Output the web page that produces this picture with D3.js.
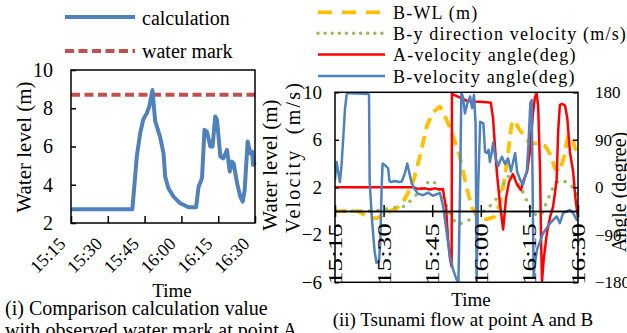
<!DOCTYPE html>
<html><head><meta charset="utf-8">
<script src="https://cdn.jsdelivr.net/npm/d3@7"></script>
<style>
body{margin:0;background:#fff}
svg{display:block}
svg text{font-family:"Liberation Serif","Times New Roman","DejaVu Serif",serif !important;fill:#000}
</style>
</head><body>
<svg id="c" width="627" height="333" font-family="Liberation Serif, serif"></svg>
<script>
// ---------- data (minutes after 15:15) ----------
const tickMinutes = [0, 15, 30, 45, 60, 75];
const levelTicks = [2, 4, 6, 8, 10];
const velocityTicks = [-6, -2, 2, 6, 10];
const angleTicks = [-180, -90, 0, 90, 180];

const calcMinutes = [0,25.0,26.0,26.8,28.2,29.5,30.9,31.9,33.2,34.3,36.3,37.7,38.4,39.7,41.8,44.5,47.9,51.0,52.0,53.4,54.4,55.4,56.8,57.7,58.8,59.5,60.9,62.0,63.6,64.7,65.6,66.3,67.7,69.0,70.0,70.8,72.0,73.1,73.8,74.2,75.0];
const calcLevel = [2.72,2.72,4.2,5.47,6.7,7.43,7.74,8.09,8.95,7.34,6.5,5.65,4.42,3.82,3.38,3.03,2.82,2.82,3.9,4.34,6.87,6.78,6.0,6.0,7.57,7.4,5.47,5.38,5.82,4.69,5.21,5.12,4.08,3.38,3.12,3.73,6.26,5.65,5.73,5.04,5.2];
const waterMarkLevel = 8.7;

const bwlMinutes = [0,7.1,9.0,10.8,13.0,14.8,17.0,18.8,20.7,22.5,24.4,26.2,28.4,30.2,32.4,34.6,36.4,38.0,39.5,40.7,42.3,44.1,46.6,49.1,50.9,52.5,53.7,54.6,55.6,56.8,58.0,60.2,62.7,64.8,66.4,67.9,69.4,70.7,71.9,73.1,74.1,75.0];
const bwlValues = [0,0,-0.3,-0.6,-0.6,-0.3,0,0.2,0.6,1.5,2.7,4.6,7.2,8.3,8.8,7.6,6.3,5.1,3.4,1.9,0.3,-0.6,-0.7,-0.5,0.6,3.0,5.5,7.5,7.6,6.9,6.5,5.7,5.7,5.5,4.8,3.6,3.3,4.6,6.3,6.3,5.3,4.8];

const byMinutes = [0,7.7,12.3,15.4,18.5,21.6,24.1,26.2,28.1,29.6,31.2,33.0,34.6,36.1,37.7,39.5,41.7,44.1,46.6,48.5,50.0,51.9,53.7,54.9,56.5,58.0,59.3,60.8,62.3,63.9,65.4,67.0,68.8,70.4,71.9,73.5,75.0];
const byValues = [0,0,0,0.15,0.3,0.4,1.1,1.7,2.3,2.6,2.3,1.4,0.3,-0.6,-1.1,-1.0,-0.7,-0.3,0.1,0.6,1.1,2.2,3.0,3.1,2.4,1.6,0.8,0.0,-0.4,-0.2,0.8,1.8,2.5,2.6,2.3,2.0,1.2];

const aAngleMinutes = [0,24.1,25.6,27.8,29.3,30.9,32.4,33.3,34.3,34.9,35.5,36.0,36.1,36.4,38.6,40.7,42.6,44.8,46.9,48.1,48.8,49.4,50.0,50.9,51.9,52.8,53.7,54.9,56.2,57.4,58.3,59.3,60.2,61.1,61.7,62.2,62.7,63.3,63.6,63.9,64.4,65.4,66.4,67.3,67.9,68.4,68.9,69.4,70.1,71.0,71.7,72.5,73.5,74.2,75.0];
const aAngleValues = [0,0,-3,-2,-4,-2,-4,-3,-40,-100,-135,-150,178,176,170,164,162,162,161,160,130,75,25,-30,-80,-20,10,25,5,-5,15,30,70,140,170,179,155,30,-100,-178,-138,-87,-56,-37,-10,14,108,156,158,155,131,67,30,-20,-60];

const bAngleMinutes = [0.0,0.5,1.1,1.5,2.0,2.6,3.1,3.6,4.0,4.6,10.2,10.5,10.7,11.4,12.2,12.8,13.6,14.0,14.4,14.7,15.4,16.4,16.8,17.3,18.5,19.8,20.6,21.6,22.3,23.1,23.7,24.4,25.6,27.2,28.7,30.2,31.8,32.4,33.4,34.5,35.5,36.5,37.6,38.1,38.6,39.0,39.5,40.1,40.9,41.7,42.3,42.9,43.4,43.7,44.2,44.8,45.8,46.3,46.9,47.4,47.8,48.4,48.8,49.4,50.3,51.5,52.5,53.4,54.3,55.6,56.2,57.1,58.0,59.2,59.7,60.3,60.7,61.0,61.3,61.7,62.3,64.2,66.4,68.4,69.4,70.4,72.5,73.5,74.6,75.0];
const bAngleValues = [15,48,25,10,40,99,150,175,179,178,177,175,10,-60,-120,-143,-140,-100,0,45,42,36,12,10,12,10,11,27,45,23,8,-2,-12,-15,-10,-16,-12,-11,-37,-87,-131,-157,-176,-178,0,178,172,140,160,172,150,175,120,-178,0,124,121,67,65,71,48,67,85,60,40,58,44,55,30,65,30,15,5,30,80,160,165,0,-168,-145,-119,-87,-68,-55,-68,-49,-43,-49,-62,-56];

// ---------- helpers ----------
const SERIF = "'Liberation Serif', 'Times New Roman', 'DejaVu Serif', serif";
const base = new Date(2011, 2, 11, 15, 15);
const T = m => new Date(+base + m * 60000);
const fmt = d3.timeFormat("%H:%M");
const zip = (a, b) => a.map((m, i) => [T(m), b[i]]);
const svg = d3.select("#c");
const BLUE = "#4F81BD", RED = "#C0504D";

// ================= LEFT CHART =================
const L = {x0: 71, x1: 255, y0: 70, y1: 223};
const xL = d3.scaleTime().domain([T(0), T(75)]).range([L.x0, L.x1]);
const yL = d3.scaleLinear().domain([2, 10]).range([L.y1, L.y0]);

svg.append("clipPath").attr("id", "clipL").append("rect")
  .attr("x", L.x0).attr("y", L.y0 - 3).attr("width", L.x1 - L.x0).attr("height", L.y1 - L.y0 + 3);

const gL = svg.append("g");
gL.append("g").attr("clip-path", "url(#clipL)").append("line")
  .attr("x1", xL(T(0))).attr("x2", xL(T(75)))
  .attr("y1", yL(waterMarkLevel)).attr("y2", yL(waterMarkLevel))
  .attr("stroke", RED).attr("stroke-width", 4).attr("stroke-dasharray", "9,4.5");
gL.append("path").datum(zip(calcMinutes, calcLevel))
  .attr("fill", "none").attr("stroke", BLUE).attr("stroke-width", 4)
  .attr("stroke-linejoin", "round")
  .attr("d", d3.line().x(d => xL(d[0])).y(d => yL(d[1])));

gL.append("rect").attr("x", L.x0).attr("y", L.y0).attr("width", L.x1 - L.x0).attr("height", L.y1 - L.y0)
  .attr("fill", "none").attr("stroke", "#000").attr("stroke-width", 1.5);

const axL = gL.append("g").attr("transform", `translate(${L.x0},0)`)
  .call(d3.axisLeft(yL).tickValues(levelTicks).tickSizeInner(-5).tickSizeOuter(0).tickPadding(18));
axL.attr("font-family", SERIF);
axL.select(".domain").remove();
axL.selectAll("line").attr("stroke-width", 1.5);
axL.selectAll("text").style("font-size", "20px").style("font-family", SERIF);

const axLB = gL.append("g").attr("transform", `translate(0,${L.y1})`)
  .call(d3.axisBottom(xL).tickValues(tickMinutes.map(T)).tickSizeInner(-7).tickSizeOuter(0).tickFormat(fmt));
axLB.attr("font-family", SERIF);
axLB.select(".domain").remove();
axLB.selectAll("line").attr("stroke-width", 1.5);
axLB.selectAll("text").style("font-size", "18px").style("font-family", SERIF)
  .attr("text-anchor", "end").attr("y", 0).attr("dy", 0)
  .attr("transform", "translate(-5,22) rotate(-45)");

const txt = (g) => g.append("text").style("font-family", SERIF);

txt(gL).attr("x", 172).attr("y", 297).attr("text-anchor", "middle")
  .style("font-size", "19px").text("Time");
txt(gL).attr("transform", "translate(31,147) rotate(-90)").attr("text-anchor", "middle")
  .style("font-size", "21px").text("Water level (m)");
txt(gL).attr("x", 5).attr("y", 315).style("font-size", "20px").text("(i) Comparison calculation value");
txt(gL).attr("x", 5).attr("y", 337).style("font-size", "20px").text("with observed water mark at point A");

// left legend
gL.append("line").attr("x1", 65).attr("x2", 135).attr("y1", 17).attr("y2", 17)
  .attr("stroke", BLUE).attr("stroke-width", 4);
txt(gL).attr("x", 142).attr("y", 25).style("font-size", "20px").text("calculation");
gL.append("line").attr("x1", 65).attr("x2", 135).attr("y1", 51).attr("y2", 51)
  .attr("stroke", RED).attr("stroke-width", 4).attr("stroke-dasharray", "9,4.5");
txt(gL).attr("x", 142).attr("y", 58).style("font-size", "20px").text("water mark");

// ================= RIGHT CHART =================
const R = {x0: 335, x1: 578, y0: 92.3, y1: 282.3};
const xR = d3.scaleTime().domain([T(0), T(75)]).range([R.x0, R.x1]);
const yR = d3.scaleLinear().domain([-6, 10]).range([R.y1, R.y0]);
const yA = d3.scaleLinear().domain([-180, 180]).range([R.y1, R.y0]);

svg.append("clipPath").attr("id", "clipR").append("rect")
  .attr("x", R.x0).attr("y", R.y0).attr("width", R.x1 - R.x0).attr("height", R.y1 - R.y0);

const gR = svg.append("g");
const plot = gR.append("g").attr("clip-path", "url(#clipR)");

const series = [
  {data: zip(bwlMinutes, bwlValues), y: yR, color: "#FFC000", w: 3.8, dash: "12,7", cap: "butt"},
  {data: zip(byMinutes, byValues), y: yR, color: "#9BBB59", w: 3.4, dash: "0.1,8.5", cap: "round"},
  {data: zip(aAngleMinutes, aAngleValues), y: yA, color: "#FF0000", w: 2.5, dash: null, cap: "butt"},
  {data: zip(bAngleMinutes, bAngleValues), y: yA, color: BLUE, w: 2.5, dash: null, cap: "butt"}
];
series.forEach(s => {
  plot.append("path").datum(s.data)
    .attr("fill", "none").attr("stroke", s.color).attr("stroke-width", s.w)
    .attr("stroke-dasharray", s.dash).attr("stroke-linecap", s.cap).attr("stroke-linejoin", "round")
    .attr("d", d3.line().x(d => xR(d[0])).y(d => s.y(d[1])));
});

gR.append("rect").attr("x", R.x0).attr("y", R.y0).attr("width", R.x1 - R.x0).attr("height", R.y1 - R.y0)
  .attr("fill", "none").attr("stroke", "#000").attr("stroke-width", 1.5);

// x axis at zero with crossing ticks
const y0 = yR(0);
const axB = gR.append("g").attr("transform", `translate(0,${y0})`)
  .call(d3.axisBottom(xR).tickValues(tickMinutes.map(T)).tickSizeInner(6).tickSizeOuter(0).tickFormat(""));
const axT = gR.append("g").attr("transform", `translate(0,${y0})`)
  .call(d3.axisTop(xR).tickValues(tickMinutes.map(T)).tickSizeInner(6).tickSizeOuter(0).tickFormat(""));
[axB, axT].forEach(a => { a.select(".domain").attr("stroke-width", 1.5); a.selectAll("line").attr("stroke-width", 1.5); });

gR.append("g").selectAll("text").data(tickMinutes).join("text")
  .style("font-family", SERIF)
  .attr("transform", m => `translate(${xR(T(m)) + 7},${y0 + 12}) rotate(-90)`)
  .attr("text-anchor", "end").style("font-size", "19px")
  .attr("textLength", 62).attr("lengthAdjust", "spacingAndGlyphs")
  .text(m => fmt(T(m)));

const axRL = gR.append("g").attr("transform", `translate(${R.x0},0)`)
  .call(d3.axisLeft(yR).tickValues(velocityTicks).tickSizeInner(-4).tickSizeOuter(0).tickPadding(13));
axRL.attr("font-family", SERIF);
axRL.select(".domain").remove();
axRL.selectAll("line").attr("stroke-width", 1.5);
axRL.selectAll("text").style("font-size", "19px").style("font-family", SERIF);

const axRR = gR.append("g").attr("transform", `translate(${R.x1},0)`)
  .call(d3.axisRight(yA).tickValues(angleTicks).tickSizeInner(-5).tickSizeOuter(0).tickPadding(17));
axRR.attr("font-family", SERIF);
axRR.select(".domain").remove();
axRR.selectAll("line").attr("stroke-width", 1.5);
axRR.selectAll("text").style("font-size", "17px").style("font-family", SERIF);

txt(gR).attr("transform", "translate(277,165) rotate(-90)").attr("text-anchor", "middle")
  .style("font-size", "21px").text("Water level (m)");
txt(gR).attr("transform", "translate(300,158) rotate(-90)").attr("text-anchor", "middle")
  .style("font-size", "20px").attr("textLength", 150).attr("lengthAdjust", "spacing")
  .style("white-space", "pre").text("Velocity  (m/s)");
txt(gR).attr("transform", "translate(626,192) rotate(-90)").attr("text-anchor", "middle")
  .style("font-size", "20px").text("Angle (degree)");

txt(gR).attr("x", 471).attr("y", 306).attr("text-anchor", "middle")
  .style("font-size", "19px").text("Time");
txt(gR).attr("x", 463).attr("y", 326).attr("text-anchor", "middle")
  .style("font-size", "19px").text("(ii) Tsunami flow at point A and B");

// right legend
const legend = [
  {label: "B-WL (m)", color: "#FFC000", w: 3.8, dash: "14,10", cap: "butt", y: 12.3},
  {label: "B-y direction velocity (m/s)", color: "#9BBB59", w: 3.4, dash: "0.1,7", cap: "round", y: 33.3},
  {label: "A-velocity angle(deg)", color: "#FF0000", w: 2.5, dash: null, cap: "butt", y: 54.5},
  {label: "B-velocity angle(deg)", color: BLUE, w: 2.5, dash: null, cap: "butt", y: 76}
];
const lg = gR.append("g").selectAll("g").data(legend).join("g");
lg.append("line").attr("x1", 318).attr("x2", 385).attr("y1", d => d.y).attr("y2", d => d.y)
  .attr("stroke", d => d.color).attr("stroke-width", d => d.w)
  .attr("stroke-dasharray", d => d.dash).attr("stroke-linecap", d => d.cap);
lg.append("text").style("font-family", SERIF).attr("x", 393).attr("y", d => d.y + 6.5)
  .style("font-size", "18px").style("letter-spacing", "1.2px").text(d => d.label);
</script>
</body></html>
